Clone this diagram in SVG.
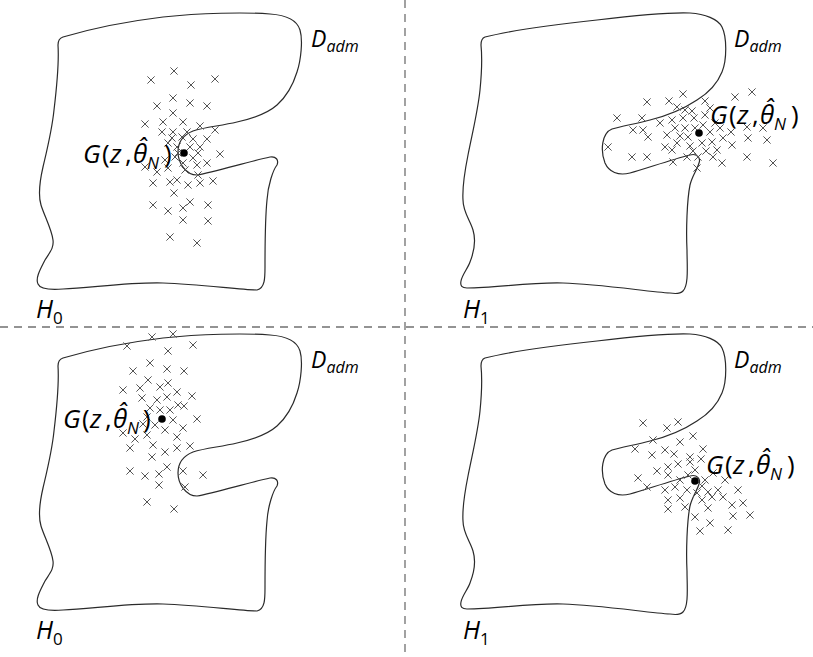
<svg xmlns="http://www.w3.org/2000/svg" xmlns:xlink="http://www.w3.org/1999/xlink" width="813" height="657" viewBox="0 0 813 657">
<style>
.bg{fill:#ffffff}
.dash{stroke:#707070;stroke-width:1.3;stroke-dasharray:8 6;fill:none}
.shape{fill:none;stroke:#2a2a2a;stroke-width:1.2}
.dot{fill:#000}
.t{font-family:"Open Sans","Noto Sans","DejaVu Sans",sans-serif;fill:#000}
.it{font-style:italic}
.g{font-size:26px}
.sub{font-size:17px}
</style>
<defs>
<path id="c" d="M-3.6,-3.6L3.6,3.6M-3.6,3.6L3.6,-3.6" stroke="#555" stroke-width="1" fill="none"/>
<path id="s0" d="M63,37 C90,29 130,21 163,17 C200,13 245,12 270,14 C285,15 297,20 300,30 C303,40 301,60 297,72 C293,85 286,97 277,105 C268,113 255,118 237,122 C220,126 205,127 193,131 C183,135 178,143 178,152 C178,163 186,175 197,175 C215,172 250,161 270,157 C276,156 279,160 277,165 C273,170 268,185 267,200 C265,220 265,250 265,267 C265,278 265,288 257,290 C240,290 200,284 163,283 C130,282 90,288 63,289 C50,290 40,289 38,284 C35,278 41,268 45,260 C50,252 54,248 53,240 C52,230 44,215 41,205 C38,195 40,180 43,167 C47,150 52,130 54,110 C57,85 59,60 58,45 C58,40 60,38 63,37 Z"/>
<path id="s1" d="M485,37 C505,32 550,25 597,20 C630,16 665,12 690,13 C705,14 718,19 722,27 C727,37 727,60 722,72 C718,82 710,92 697,100 C685,108 670,115 650,120 C635,124 622,126 612,129 C602,133 600,150 605,163 C609,172 618,176 630,173 C645,169 670,160 690,155 C697,153 701,158 699,163 C697,170 692,176 690,185 C687,200 686,230 687,250 C687,265 689,285 683,291 C680,294 676,294 670,293 C650,292 600,284 563,283 C530,282 495,288 467,288 C462,288 460,286 461,281 C462,275 468,268 470,262 C474,252 476,240 473,230 C470,220 463,212 463,200 C462,185 465,170 468,155 C473,130 478,110 480,90 C482,70 482,55 481,45 C481,40 482,38 485,37 Z"/>
</defs>
<rect class="bg" x="0" y="0" width="813" height="657"/>
<g id="connectors">
<line class="dash" x1="0" y1="327" x2="813" y2="327"/>
<line class="dash" x1="405" y1="0" x2="405" y2="657"/>
</g>

<g id="panel-tl">
<use href="#s0" class="shape"/>
<g id="crosses-tl">
<use href="#c" x="174" y="71"/><use href="#c" x="151" y="80"/><use href="#c" x="191" y="85"/><use href="#c" x="215" y="79"/><use href="#c" x="157" y="106"/><use href="#c" x="173" y="98"/><use href="#c" x="190" y="103"/><use href="#c" x="207" y="106"/><use href="#c" x="173" y="113"/><use href="#c" x="145" y="124"/><use href="#c" x="163" y="122"/><use href="#c" x="183" y="122"/><use href="#c" x="200" y="126"/><use href="#c" x="215" y="130"/><use href="#c" x="162" y="132"/><use href="#c" x="173" y="132"/><use href="#c" x="187" y="132"/><use href="#c" x="172" y="138"/><use href="#c" x="182" y="137"/><use href="#c" x="193" y="139"/><use href="#c" x="207" y="139"/><use href="#c" x="177" y="147"/><use href="#c" x="190" y="147"/><use href="#c" x="200" y="147"/><use href="#c" x="220" y="154"/><use href="#c" x="145" y="167"/><use href="#c" x="157" y="172"/><use href="#c" x="168" y="168"/><use href="#c" x="183" y="163"/><use href="#c" x="197" y="165"/><use href="#c" x="207" y="163"/><use href="#c" x="153" y="183"/><use href="#c" x="170" y="182"/><use href="#c" x="177" y="180"/><use href="#c" x="188" y="185"/><use href="#c" x="200" y="183"/><use href="#c" x="213" y="181"/><use href="#c" x="174" y="193"/><use href="#c" x="198" y="175"/><use href="#c" x="153" y="205"/><use href="#c" x="168" y="211"/><use href="#c" x="183" y="208"/><use href="#c" x="190" y="202"/><use href="#c" x="208" y="205"/><use href="#c" x="183" y="220"/><use href="#c" x="208" y="221"/><use href="#c" x="170" y="237"/><use href="#c" x="197" y="243"/><use href="#c" x="175" y="157"/><use href="#c" x="185" y="170"/><use href="#c" x="193" y="158"/><use href="#c" x="198" y="153"/><use href="#c" x="168" y="143"/><use href="#c" x="178" y="153"/><use href="#c" x="165" y="160"/>
</g>
<circle class="dot" cx="184" cy="153" r="3.8"/>
<text class="t g" y="163"><tspan class="it" x="83">G</tspan><tspan x="102">(</tspan><tspan class="it" x="110">z</tspan><tspan x="125">,</tspan><tspan class="it" x="133">θ̂</tspan><tspan class="it sub" x="147" dy="6">N</tspan><tspan x="164" dy="-6">)</tspan></text>
<text class="t it" x="311" y="47" font-size="23">D<tspan font-size="16" dy="5">adm</tspan></text>
<text class="t" x="36" y="318" font-size="25"><tspan class="it">H</tspan><tspan font-size="17" dy="6">0</tspan></text>
</g>

<g id="panel-tr">
<use href="#s1" class="shape"/>
<g id="crosses-tr">
<use href="#c" x="647" y="102"/><use href="#c" x="669" y="101"/><use href="#c" x="683" y="94"/><use href="#c" x="677" y="107"/><use href="#c" x="692" y="111"/><use href="#c" x="705" y="101"/><use href="#c" x="735" y="97"/><use href="#c" x="752" y="92"/><use href="#c" x="617" y="118"/><use href="#c" x="642" y="118"/><use href="#c" x="660" y="123"/><use href="#c" x="672" y="120"/><use href="#c" x="683" y="118"/><use href="#c" x="694" y="118"/><use href="#c" x="705" y="115"/><use href="#c" x="715" y="123"/><use href="#c" x="633" y="130"/><use href="#c" x="643" y="130"/><use href="#c" x="648" y="137"/><use href="#c" x="667" y="135"/><use href="#c" x="675" y="128"/><use href="#c" x="685" y="128"/><use href="#c" x="695" y="128"/><use href="#c" x="710" y="132"/><use href="#c" x="720" y="128"/><use href="#c" x="731" y="132"/><use href="#c" x="747" y="127"/><use href="#c" x="763" y="128"/><use href="#c" x="608" y="147"/><use href="#c" x="665" y="147"/><use href="#c" x="677" y="143"/><use href="#c" x="688" y="137"/><use href="#c" x="702" y="143"/><use href="#c" x="712" y="142"/><use href="#c" x="723" y="138"/><use href="#c" x="732" y="145"/><use href="#c" x="748" y="138"/><use href="#c" x="767" y="140"/><use href="#c" x="632" y="157"/><use href="#c" x="647" y="157"/><use href="#c" x="673" y="162"/><use href="#c" x="687" y="157"/><use href="#c" x="698" y="157"/><use href="#c" x="713" y="157"/><use href="#c" x="722" y="163"/><use href="#c" x="747" y="157"/><use href="#c" x="773" y="163"/><use href="#c" x="697" y="168"/><use href="#c" x="672" y="150"/><use href="#c" x="690" y="146"/><use href="#c" x="703" y="125"/><use href="#c" x="680" y="136"/><use href="#c" x="693" y="151"/><use href="#c" x="706" y="151"/><use href="#c" x="717" y="150"/><use href="#c" x="685" y="110"/><use href="#c" x="710" y="108"/>
</g>
<circle class="dot" cx="699" cy="133" r="3.8"/>
<text class="t g" y="124"><tspan class="it" x="710">G</tspan><tspan x="729">(</tspan><tspan class="it" x="737">z</tspan><tspan x="752">,</tspan><tspan class="it" x="760">θ̂</tspan><tspan class="it sub" x="774" dy="6">N</tspan><tspan x="791" dy="-6">)</tspan></text>
<text class="t it" x="734" y="47" font-size="23">D<tspan font-size="16" dy="5">adm</tspan></text>
<text class="t" x="463" y="318" font-size="25"><tspan class="it">H</tspan><tspan font-size="17" dy="6">1</tspan></text>
</g>

<g id="panel-bl">
<use href="#s0" class="shape" transform="translate(0,321)"/>
<g id="crosses-bl">
<use href="#c" x="152" y="337"/><use href="#c" x="173" y="334"/><use href="#c" x="127" y="346"/><use href="#c" x="193" y="345"/><use href="#c" x="168" y="351"/><use href="#c" x="150" y="363"/><use href="#c" x="133" y="371"/><use href="#c" x="167" y="369"/><use href="#c" x="184" y="371"/><use href="#c" x="148" y="380"/><use href="#c" x="123" y="390"/><use href="#c" x="140" y="388"/><use href="#c" x="160" y="387"/><use href="#c" x="168" y="383"/><use href="#c" x="177" y="392"/><use href="#c" x="192" y="396"/><use href="#c" x="142" y="398"/><use href="#c" x="157" y="400"/><use href="#c" x="167" y="397"/><use href="#c" x="184" y="406"/><use href="#c" x="197" y="419"/><use href="#c" x="123" y="433"/><use href="#c" x="135" y="439"/><use href="#c" x="147" y="435"/><use href="#c" x="153" y="445"/><use href="#c" x="130" y="448"/><use href="#c" x="165" y="452"/><use href="#c" x="177" y="448"/><use href="#c" x="190" y="446"/><use href="#c" x="152" y="457"/><use href="#c" x="167" y="467"/><use href="#c" x="183" y="471"/><use href="#c" x="203" y="475"/><use href="#c" x="130" y="471"/><use href="#c" x="145" y="476"/><use href="#c" x="159" y="474"/><use href="#c" x="159" y="485"/><use href="#c" x="185" y="487"/><use href="#c" x="147" y="502"/><use href="#c" x="174" y="509"/><use href="#c" x="177" y="437"/><use href="#c" x="183" y="428"/><use href="#c" x="173" y="420"/><use href="#c" x="147" y="417"/><use href="#c" x="160" y="410"/><use href="#c" x="170" y="410"/><use href="#c" x="150" y="408"/><use href="#c" x="165" y="430"/><use href="#c" x="155" y="425"/><use href="#c" x="178" y="405"/><use href="#c" x="143" y="424"/>
</g>
<circle class="dot" cx="162" cy="419" r="3.8"/>
<text class="t g" y="428"><tspan class="it" x="63">G</tspan><tspan x="82">(</tspan><tspan class="it" x="90">z</tspan><tspan x="105">,</tspan><tspan class="it" x="113">θ̂</tspan><tspan class="it sub" x="127" dy="6">N</tspan><tspan x="143" dy="-6">)</tspan></text>
<text class="t it" x="311" y="368" font-size="23">D<tspan font-size="16" dy="5">adm</tspan></text>
<text class="t" x="36" y="639" font-size="25"><tspan class="it">H</tspan><tspan font-size="17" dy="6">0</tspan></text>
</g>

<g id="panel-br">
<use href="#s1" class="shape" transform="translate(0,321)"/>
<g id="crosses-br">
<use href="#c" x="643" y="423"/><use href="#c" x="667" y="428"/><use href="#c" x="678" y="422"/><use href="#c" x="653" y="440"/><use href="#c" x="680" y="442"/><use href="#c" x="693" y="436"/><use href="#c" x="635" y="449"/><use href="#c" x="652" y="455"/><use href="#c" x="665" y="450"/><use href="#c" x="674" y="454"/><use href="#c" x="690" y="457"/><use href="#c" x="703" y="449"/><use href="#c" x="657" y="471"/><use href="#c" x="668" y="467"/><use href="#c" x="678" y="464"/><use href="#c" x="690" y="462"/><use href="#c" x="701" y="459"/><use href="#c" x="638" y="478"/><use href="#c" x="647" y="487"/><use href="#c" x="668" y="475"/><use href="#c" x="680" y="480"/><use href="#c" x="688" y="475"/><use href="#c" x="705" y="480"/><use href="#c" x="713" y="473"/><use href="#c" x="725" y="480"/><use href="#c" x="665" y="490"/><use href="#c" x="675" y="487"/><use href="#c" x="687" y="490"/><use href="#c" x="697" y="493"/><use href="#c" x="708" y="492"/><use href="#c" x="718" y="490"/><use href="#c" x="738" y="490"/><use href="#c" x="668" y="500"/><use href="#c" x="680" y="498"/><use href="#c" x="702" y="500"/><use href="#c" x="712" y="497"/><use href="#c" x="723" y="497"/><use href="#c" x="732" y="505"/><use href="#c" x="743" y="503"/><use href="#c" x="668" y="509"/><use href="#c" x="685" y="507"/><use href="#c" x="708" y="508"/><use href="#c" x="733" y="516"/><use href="#c" x="750" y="515"/><use href="#c" x="695" y="517"/><use href="#c" x="710" y="523"/><use href="#c" x="700" y="531"/><use href="#c" x="728" y="530"/><use href="#c" x="695" y="470"/><use href="#c" x="702" y="486"/>
</g>
<circle class="dot" cx="695" cy="481" r="3.8"/>
<text class="t g" y="474"><tspan class="it" x="706">G</tspan><tspan x="725">(</tspan><tspan class="it" x="733">z</tspan><tspan x="748">,</tspan><tspan class="it" x="756">θ̂</tspan><tspan class="it sub" x="770" dy="6">N</tspan><tspan x="787" dy="-6">)</tspan></text>
<text class="t it" x="734" y="368" font-size="23">D<tspan font-size="16" dy="5">adm</tspan></text>
<text class="t" x="463" y="639" font-size="25"><tspan class="it">H</tspan><tspan font-size="17" dy="6">1</tspan></text>
</g>
</svg>
